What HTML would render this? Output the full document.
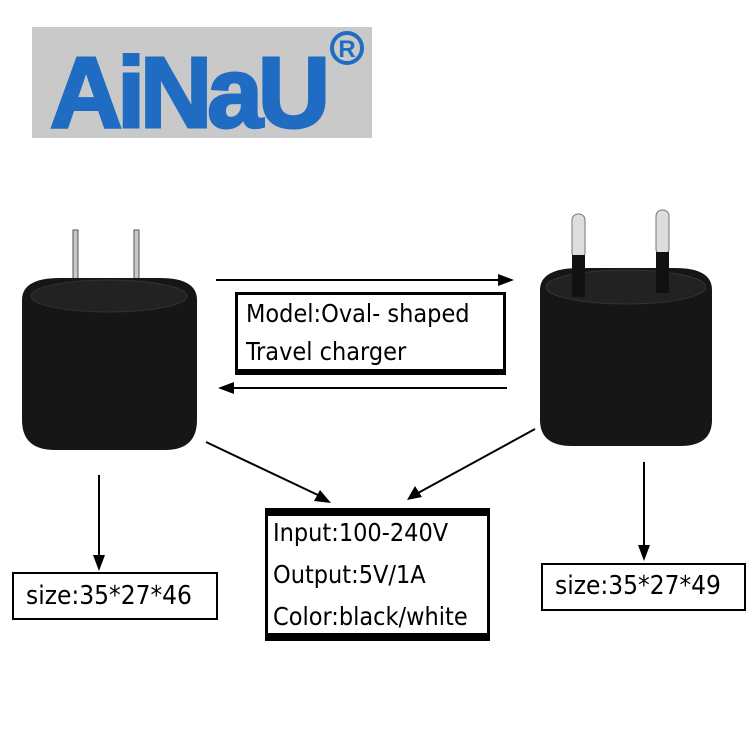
<!DOCTYPE html>
<html><head><style>
body{margin:0;width:750px;height:750px;background:#fff;position:relative;overflow:hidden;font-family:"DejaVu Sans Condensed","DejaVu Sans","Liberation Sans",sans-serif;}
.abs{position:absolute;}
</style></head><body>
<div class="abs" style="left:32px;top:27px;width:340px;height:111px;background:#c9c9c9;"></div>
<div class="abs" style="left:50px;top:38px;font-family:'Liberation Sans',sans-serif;font-weight:bold;font-size:100px;color:#1f6cc2;letter-spacing:-5px;line-height:110px;-webkit-text-stroke:3px #1f6cc2;">AiNaU</div>
<svg class="abs" style="left:0;top:0" width="750" height="750">
<circle cx="347" cy="48" r="15" fill="none" stroke="#1f6cc2" stroke-width="4"/>
<text x="347" y="57" font-family="Liberation Sans" font-weight="bold" font-size="24" fill="#1f6cc2" text-anchor="middle">R</text>
<rect x="73" y="230" width="5" height="80" fill="#c8c8c8" stroke="#555" stroke-width="1"/>
<rect x="134" y="230" width="5" height="80" fill="#c8c8c8" stroke="#555" stroke-width="1"/>
<path d="M22 300 Q22 278 60 278 L160 278 Q197 278 197 300 L197 420 Q197 450 165 450 L55 450 Q22 450 22 420 Z" fill="#161616"/>
<ellipse cx="109" cy="296" rx="78" ry="16" fill="#222" stroke="#333"/>
<rect x="572" y="214" width="13" height="45" rx="6" fill="#ddd" stroke="#777"/>
<rect x="656" y="210" width="13" height="45" rx="6" fill="#ddd" stroke="#777"/>
<path d="M540 290 Q540 268 580 268 L675 268 Q712 268 712 290 L712 420 Q712 446 680 446 L572 446 Q540 446 540 420 Z" fill="#161616"/>
<ellipse cx="626" cy="287" rx="80" ry="17" fill="#222" stroke="#333"/>
<rect x="572" y="255" width="13" height="42" fill="#111"/>
<rect x="656" y="252" width="13" height="41" fill="#111"/>
<g stroke="#000" stroke-width="2" fill="none">
<line x1="216" y1="280" x2="500" y2="280"/>
<line x1="507" y1="388" x2="232" y2="388"/>
<line x1="206" y1="442" x2="320" y2="496"/>
<line x1="535" y1="429" x2="418" y2="493"/>
<line x1="99" y1="475" x2="99" y2="556"/>
<line x1="644" y1="462" x2="644" y2="546"/>
</g>
<g fill="#000">
<polygon points="514,280 498,274 498,286"/>
<polygon points="218,388 234,382 234,394"/>
<polygon points="331,503 314,501 320,490"/>
<polygon points="407,500 415,486 422,497"/>
<polygon points="99,571 93,555 105,555"/>
<polygon points="644,561 638,545 650,545"/>
</g>
</svg>
<div class="abs" style="left:235px;top:292px;width:257px;height:74px;border:3px solid #000;border-bottom-width:6px;font-size:25px;line-height:38px;padding-left:8px;box-sizing:content-box;white-space:nowrap;">Model:Oval- shaped<br>Travel charger</div>
<div class="abs" style="left:265px;top:508px;width:214px;height:117px;border:3px solid #000;border-top-width:8px;border-bottom-width:8px;font-size:25px;line-height:42px;padding-left:5px;white-space:nowrap;"><div style="margin-top:-4px">Input:100-240V<br>Output:5V/1A<br>Color:black/white</div></div>
<div class="abs" style="left:12px;top:572px;border:2px solid #000;font-size:26px;line-height:44px;padding-left:12px;box-sizing:border-box;width:206px;height:48px;white-space:nowrap;">size:35*27*46</div>
<div class="abs" style="left:541px;top:563px;width:205px;height:48px;border:2px solid #000;font-size:26px;line-height:42px;padding-left:12px;box-sizing:border-box;white-space:nowrap;">size:35*27*49</div>
</body></html>
